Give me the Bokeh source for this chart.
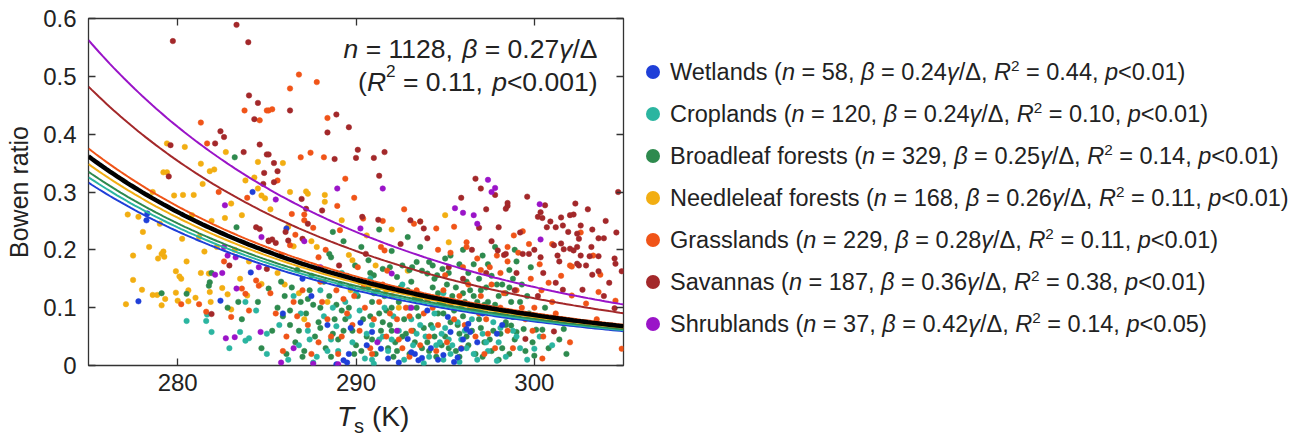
import numpy as np
from bokeh.plotting import figure
from bokeh.models import Range1d, FixedTicker, NumeralTickFormatter, LinearAxis, Label, Div, CustomJSTickFormatter
from bokeh.layouts import row, column
from bokeh.embed import file_html
from bokeh.resources import INLINE

# ---------------- data ----------------
categories = ["Wetlands", "Croplands", "Broadleaf forests", "Needleleaf forests",
              "Grasslands", "Savannas", "Shrublands"]
n_counts = [58, 120, 329, 168, 229, 187, 37]
coef_text = ["0.24", "0.24", "0.25", "0.26", "0.28", "0.36", "0.42"]
r2_text = ["0.44", "0.10", "0.14", "0.11", "0.11", "0.38", "0.14"]
p_text = ["0.01", "0.01", "0.01", "0.01", "0.01", "0.01", "0.05"]
coef_fit = [0.236, 0.243, 0.25, 0.26, 0.28, 0.36, 0.42]
overall_n = 1128
overall_coef = 0.27
overall_r2 = "0.11"
overall_p = "0.001"
colors = ["#1f3fd8", "#2bb5a0", "#2e8a4e", "#f2ae12", "#f05418", "#a3282a", "#9a14c8"]

wetlands = [(278.3, 0.263), (278.25, 0.251), (277.8, 0.111), (282.4, 0.112), (284.1, 0.161),
            (284.2, 0.300), (286.1, 0.237), (285.9, 0.090), (287.5, 0.120), (288.4, 0.070),
            (289.7, 0.065), (290.25, 0.074), (289.6, 0.020), (289.3, 0.009), (289.5, 0.005),
            (290.6, 0.035), (291.4, 0.029), (290.9, 0.058), (292.9, 0.046), (293.1, 0.023),
            (293.3, 0.020), (293.5, 0.009), (293.7, 0.013), (294.2, 0.030), (294.6, 0.010),
            (295.15, 0.084), (295.3, 0.058), (295.9, 0.029), (295.7, 0.014), (296.3, 0.072),
            (296.2, 0.063), (296.4, 0.058), (296.8, 0.040), (297.1, 0.090), (297.5, 0.100),
            (291.8, 0.012), (292.4, 0.005), (294.9, 0.018), (295.5, 0.006), (296.0, 0.045),
            (288.9, 0.002), (287.0, 0.150), (297.9, 0.055), (298.2, 0.070), (294.0, 0.095)]

croplands = [(280.5, 0.077), (281.6, 0.077), (281.65, 0.088), (281.9, 0.058), (283.5, 0.058),
             (283.8, 0.043), (284.0, 0.047), (285.0, 0.055), (285.0, 0.020), (284.4, 0.095),
             (283.8, 0.110), (282.9, 0.030), (286.2, 0.010), (286.8, 0.035), (287.3, 0.060),
             (287.8, 0.015), (288.2, 0.085), (288.6, 0.045), (289.0, 0.025), (289.4, 0.110),
             (289.8, 0.040), (290.2, 0.095), (290.5, 0.012), (290.9, 0.070), (291.2, 0.130),
             (291.5, 0.050), (291.8, 0.025), (292.1, 0.085), (292.4, 0.060), (292.7, 0.010),
             (293.0, 0.100), (293.2, 0.035), (293.6, 0.070), (293.9, 0.050), (294.1, 0.015),
             (294.4, 0.090), (294.7, 0.040), (295.0, 0.065), (295.3, 0.020), (295.6, 0.110),
             (295.9, 0.045), (296.2, 0.030), (296.5, 0.080), (296.8, 0.010), (297.1, 0.055),
             (297.4, 0.025), (297.7, 0.075), (298.0, 0.040), (298.4, 0.015), (298.8, 0.060),
             (299.2, 0.030), (300.0, 0.029), (300.3, 0.050), (301.0, 0.035), (289.2, 0.160),
             (290.8, 0.150), (292.6, 0.140), (294.9, 0.125), (286.5, 0.120), (288.0, 0.130),
             (296.9, 0.095), (287.6, 0.005), (291.0, 0.003), (293.8, 0.004), (295.8, 0.006),
             (297.9, 0.008), (299.6, 0.010), (285.7, 0.070), (288.9, 0.068), (294.5, 0.035),
             (295.2, 0.045), (294.8, 0.055), (291.3, 0.045), (290.6, 0.055),
             (286.9, 0.090), (288.4, 0.025), (289.6, 0.085), (290.9, 0.010), (292.0, 0.045),
             (293.4, 0.055), (294.3, 0.065), (294.9, 0.010), (295.4, 0.035), (295.7, 0.075),
             (296.1, 0.060), (296.6, 0.020), (297.3, 0.040), (298.1, 0.065), (299.0, 0.050),
             (293.1, 0.080), (291.6, 0.100), (290.0, 0.125), (288.7, 0.100), (287.4, 0.045)]

broadleaf = [(288.7, 0.231), (288.5, 0.193), (288.6, 0.187), (289.95, 0.173), (290.7, 0.182),
             (290.8, 0.160), (291.0, 0.156), (291.5, 0.167), (292.3, 0.153), (292.6, 0.173),
             (293.15, 0.170), (293.4, 0.179), (293.7, 0.164), (294.0, 0.159), (294.1, 0.179),
             (294.3, 0.173), (294.55, 0.156), (294.85, 0.167), (292.0, 0.198), (292.9, 0.222),
             (293.6, 0.205), (295.3, 0.190), (295.8, 0.175), (296.3, 0.160), (296.9, 0.150),
             (297.4, 0.175), (297.9, 0.140), (298.4, 0.125), (298.8, 0.150), (295.6, 0.135),
             (296.6, 0.120), (297.2, 0.105), (289.3, 0.215), (290.3, 0.205), (291.3, 0.235),
             (283.2, 0.360), (283.3, 0.239), (281.8, 0.144), (281.75, 0.138), (279.1, 0.125),
             (280.5, 0.124), (283.4, 0.110), (284.5, 0.110), (285.1, 0.133), (281.9, 0.160),
             (285.6, 0.10), (286.0, 0.12), (286.3, 0.07), (286.6, 0.04), (286.9, 0.11),
             (287.2, 0.09), (287.4, 0.13), (287.7, 0.05), (288.0, 0.10), (288.3, 0.03),
             (288.5, 0.12), (288.8, 0.08), (289.1, 0.14), (289.3, 0.06), (289.6, 0.10),
             (289.9, 0.02), (290.1, 0.12), (290.4, 0.08), (290.6, 0.05), (290.9, 0.11),
             (291.1, 0.02), (291.3, 0.09), (291.6, 0.12), (291.9, 0.07), (292.2, 0.04),
             (292.4, 0.11), (292.7, 0.08), (292.9, 0.13), (293.2, 0.06), (293.4, 0.10),
             (293.7, 0.03), (293.9, 0.12), (294.2, 0.07), (294.4, 0.05), (294.7, 0.11),
             (294.9, 0.09), (295.2, 0.03), (295.4, 0.12), (295.7, 0.07), (295.9, 0.10),
             (296.2, 0.05), (296.4, 0.13), (296.7, 0.02), (296.9, 0.08), (297.2, 0.04),
             (297.4, 0.11), (297.7, 0.06), (297.9, 0.09), (298.2, 0.03), (298.4, 0.07),
             (298.7, 0.11), (299.0, 0.058), (299.4, 0.063), (298.4, 0.075), (298.8, 0.084),
             (298.7, 0.069), (300.45, 0.062), (300.1, 0.062), (301.65, 0.063), (301.8, 0.020),
             (300.0, 0.017), (299.7, 0.090), (300.6, 0.100), (286.1, 0.02), (287.0, 0.015),
             (288.6, 0.015), (290.0, 0.035), (291.8, 0.03), (293.0, 0.02), (294.5, 0.015),
             (295.8, 0.015), (297.1, 0.015), (298.6, 0.02), (289.0, 0.045), (290.7, 0.135),
             (292.0, 0.10), (293.5, 0.085), (295.0, 0.05), (296.0, 0.085), (297.0, 0.13),
             (298.0, 0.12), (299.2, 0.11), (287.9, 0.075), (291.4, 0.06), (294.0, 0.04),
             (296.5, 0.06), (289.4, 0.08), (292.6, 0.05), (295.5, 0.095), (285.3, 0.06),
             (284.7, 0.03), (283.6, 0.08), (282.8, 0.10), (285.8, 0.145), (287.5, 0.155),
             (286.7, 0.165), (298.9, 0.045), (299.9, 0.04), (300.9, 0.08), (293.3, 0.115),
             (294.6, 0.125), (296.1, 0.11), (297.6, 0.025), (298.1, 0.055), (299.5, 0.025),
             (285.9, 0.085), (286.4, 0.135), (286.8, 0.06), (287.1, 0.025), (287.6, 0.105),
             (288.2, 0.145), (288.7, 0.055), (289.2, 0.095), (289.7, 0.135), (290.3, 0.025),
             (290.8, 0.085), (291.2, 0.14), (291.7, 0.095), (292.1, 0.015), (292.5, 0.135),
             (292.8, 0.055), (293.1, 0.145), (293.6, 0.115), (294.1, 0.025), (294.3, 0.135),
             (294.8, 0.035), (295.1, 0.14), (295.3, 0.075), (295.6, 0.025), (296.0, 0.125),
             (296.3, 0.035), (296.6, 0.095), (297.0, 0.065), (297.3, 0.135), (297.8, 0.105),
             (298.3, 0.09), (298.6, 0.135), (299.1, 0.085), (299.6, 0.12), (300.2, 0.08),
             (300.8, 0.03), (301.4, 0.045), (289.8, 0.06), (290.9, 0.045), (291.5, 0.075),
             (292.3, 0.025), (293.3, 0.04), (294.6, 0.09), (295.8, 0.055), (296.8, 0.11),
             (297.5, 0.045), (298.0, 0.01), (286.3, 0.095), (287.3, 0.115), (288.0, 0.065),
             (288.9, 0.105), (290.2, 0.145), (291.0, 0.125), (292.0, 0.06), (293.8, 0.065),
             (294.9, 0.105), (296.2, 0.145), (297.6, 0.155), (298.2, 0.14), (299.3, 0.14),
             (295.2, 0.16), (294.4, 0.15), (293.0, 0.165), (289.5, 0.155), (291.9, 0.17),
             (296.6, 0.175), (297.1, 0.19), (298.6, 0.165), (299.0, 0.18), (299.8, 0.17),
             (296.0, 0.20), (297.8, 0.205), (298.9, 0.2), (295.0, 0.185)]

needleleaf = [(277.2, 0.261), (278.05, 0.231), (277.8, 0.257), (279.8, 0.294), (280.3, 0.295),
              (280.9, 0.295), (279.2, 0.197), (279.25, 0.188), (279.1, 0.193), (278.9, 0.185),
              (279.9, 0.163), (280.1, 0.154), (280.2, 0.150), (277.5, 0.148), (278.0, 0.131),
              (278.6, 0.122), (278.85, 0.122), (279.3, 0.115), (277.1, 0.106), (279.1, 0.104),
              (279.9, 0.126), (280.6, 0.130), (281.0, 0.117), (280.0, 0.112), (280.6, 0.111),
              (281.3, 0.160), (281.75, 0.159), (281.8, 0.127), (282.5, 0.134), (281.85, 0.110),
              (282.8, 0.123), (283.9, 0.121), (283.0, 0.097), (284.7, 0.141), (282.65, 0.255),
              (283.6, 0.260), (284.7, 0.294), (284.9, 0.289), (284.5, 0.306), (281.5, 0.197),
              (280.25, 0.219), (281.2, 0.222), (282.2, 0.205), (279.4, 0.384), (280.4, 0.378),
              (282.7, 0.369), (281.3, 0.349), (284.5, 0.352), (279.2, 0.334), (279.4, 0.334),
              (281.8, 0.336), (282.05, 0.339), (284.3, 0.325), (281.4, 0.314), (287.2, 0.301),
              (287.3, 0.297), (288.25, 0.295), (288.25, 0.283), (289.2, 0.251), (292.0, 0.235),
              (293.6, 0.249), (295.0, 0.260), (286.5, 0.206), (287.5, 0.215), (287.8, 0.205),
              (289.6, 0.191), (289.8, 0.182), (291.1, 0.173), (292.9, 0.164), (295.2, 0.213),
              (286.0, 0.14), (286.8, 0.125), (285.6, 0.16), (287.1, 0.08), (288.4, 0.11),
              (289.7, 0.13), (291.7, 0.13), (284.0, 0.18), (283.2, 0.20), (280.8, 0.26),
              (279.0, 0.245), (278.4, 0.205), (283.5, 0.15), (285.2, 0.27), (286.3, 0.30),
              (280.5, 0.18), (281.9, 0.25), (278.6, 0.30), (283.0, 0.28), (290.6, 0.225),
              (292.4, 0.10), (277.5, 0.19), (283.8, 0.32), (285.9, 0.35), (286.2, 0.24)]

grasslands = [(283.75, 0.441), (285.0, 0.441), (284.6, 0.424), (281.3, 0.420), (281.65, 0.384),
              (286.8, 0.503), (287.8, 0.490), (286.3, 0.479), (285.1, 0.441), (285.3, 0.443),
              (287.45, 0.368), (288.2, 0.360), (288.4, 0.428), (289.4, 0.323), (288.95, 0.276),
              (286.4, 0.262), (287.1, 0.261), (287.1, 0.251), (290.4, 0.254), (287.6, 0.238),
              (286.6, 0.226), (289.1, 0.234), (293.25, 0.245), (294.5, 0.237), (286.3, 0.208),
              (287.9, 0.187), (291.4, 0.205), (291.6, 0.199), (291.75, 0.164), (295.0, 0.156),
              (296.2, 0.213), (296.2, 0.205), (298.5, 0.205), (298.85, 0.225), (299.35, 0.232),
              (302.0, 0.173), (302.1, 0.171), (303.7, 0.157), (303.6, 0.127), (301.5, 0.155),
              (300.8, 0.143), (302.1, 0.121), (302.9, 0.107), (304.55, 0.112), (304.9, 0.029),
              (300.45, 0.012), (280.2, 0.106), (281.2, 0.106), (283.6, 0.133), (283.8, 0.124),
              (284.0, 0.095), (281.6, 0.093), (283.0, 0.084), (284.4, 0.147), (284.55, 0.138),
              (285.5, 0.09), (286.1, 0.05), (286.5, 0.11), (287.0, 0.13), (287.3, 0.07),
              (287.9, 0.04), (288.1, 0.11), (288.4, 0.08), (288.9, 0.13), (289.2, 0.05),
              (289.5, 0.09), (289.9, 0.12), (290.2, 0.06), (290.5, 0.10), (290.8, 0.03),
              (291.0, 0.08), (291.3, 0.11), (291.7, 0.05), (292.0, 0.12), (292.3, 0.08),
              (292.6, 0.03), (292.8, 0.10), (293.1, 0.06), (293.4, 0.13), (293.8, 0.09),
              (294.1, 0.05), (294.3, 0.10), (294.6, 0.07), (294.9, 0.13), (295.1, 0.04),
              (295.5, 0.08), (295.8, 0.12), (296.1, 0.07), (296.4, 0.10), (296.7, 0.05),
              (297.0, 0.12), (297.3, 0.08), (297.6, 0.14), (297.8, 0.03), (298.1, 0.10),
              (298.5, 0.06), (299.0, 0.13), (299.5, 0.08), (300.0, 0.10), (300.5, 0.05),
              (301.2, 0.09), (297.5, 0.17), (298.1, 0.16), (296.8, 0.185), (299.8, 0.15),
              (294.6, 0.20), (290.1, 0.17), (288.3, 0.20), (285.8, 0.19), (282.6, 0.18),
              (283.9, 0.29), (282.3, 0.30), (285.6, 0.32), (286.9, 0.36), (289.9, 0.29),
              (292.7, 0.27), (291.5, 0.25), (295.5, 0.24), (302.6, 0.23), (303.3, 0.19),
              (301.0, 0.21), (304.3, 0.065), (303.5, 0.08), (302.0, 0.04), (297.2, 0.02),
              (293.0, 0.015), (289.0, 0.02),
              (285.2, 0.125), (285.9, 0.025), (286.7, 0.085), (287.5, 0.020), (288.0, 0.145),
              (288.6, 0.050), (289.3, 0.115), (289.8, 0.070), (290.4, 0.135), (290.9, 0.020),
              (291.5, 0.140), (291.9, 0.090), (292.4, 0.045), (293.0, 0.085), (293.6, 0.035),
              (294.0, 0.115), (294.5, 0.025), (295.3, 0.105), (295.9, 0.030), (296.3, 0.140),
              (296.9, 0.090), (297.4, 0.055), (298.3, 0.125), (298.8, 0.030), (299.3, 0.100),
              (299.9, 0.060), (300.4, 0.130), (301.0, 0.110), (301.6, 0.075), (296.0, 0.170),
              (297.0, 0.165), (298.5, 0.180), (299.1, 0.195), (299.7, 0.210), (300.3, 0.175),
              (295.3, 0.195), (297.9, 0.190)]

savannas = [(279.73, 0.561), (283.3, 0.589), (283.96, 0.559), (284.0, 0.467), (284.5, 0.454),
            (284.3, 0.426), (282.4, 0.405), (282.6, 0.395), (282.1, 0.384), (279.6, 0.381),
            (284.6, 0.382), (283.7, 0.369), (285.0, 0.365), (284.85, 0.333), (279.5, 0.327),
            (284.8, 0.314), (286.3, 0.441), (288.9, 0.434), (289.6, 0.412), (288.4, 0.403),
            (285.1, 0.365), (288.8, 0.357), (290.1, 0.373), (290.0, 0.359), (291.0, 0.359),
            (291.6, 0.369), (285.4, 0.350), (285.6, 0.336), (285.4, 0.317), (291.3, 0.328),
            (296.7, 0.323), (297.0, 0.306), (286.95, 0.288), (287.2, 0.271), (288.1, 0.268),
            (290.35, 0.257), (291.25, 0.252), (287.3, 0.245), (286.05, 0.231), (293.05, 0.251),
            (293.6, 0.249), (293.8, 0.237), (285.3, 0.218), (285.1, 0.215), (285.5, 0.212),
            (286.2, 0.216), (287.0, 0.219), (289.05, 0.173), (290.55, 0.193), (282.9, 0.173),
            (284.4, 0.239), (284.6, 0.236), (285.1, 0.216), (285.0, 0.167), (281.9, 0.089),
            (297.8, 0.295), (299.6, 0.292), (297.3, 0.270), (298.4, 0.271), (298.5, 0.276),
            (298.5, 0.281), (300.6, 0.277), (300.35, 0.265), (300.2, 0.257), (300.45, 0.255),
            (300.9, 0.249), (301.5, 0.256), (302.0, 0.260), (302.2, 0.261), (296.9, 0.238),
            (298.0, 0.239), (300.7, 0.239), (301.2, 0.239), (301.6, 0.242), (301.9, 0.231),
            (302.4, 0.228), (302.6, 0.242), (302.5, 0.219), (303.25, 0.235), (303.6, 0.220),
            (303.9, 0.220), (297.95, 0.199), (298.3, 0.191), (298.4, 0.193), (299.35, 0.193),
            (299.7, 0.193), (300.0, 0.200), (300.35, 0.187), (301.1, 0.208), (301.5, 0.211),
            (301.65, 0.201), (301.3, 0.190), (301.4, 0.180), (302.0, 0.202), (302.2, 0.199),
            (302.4, 0.205), (302.6, 0.190), (302.9, 0.173), (302.5, 0.173), (302.4, 0.176),
            (303.2, 0.205), (303.6, 0.189), (303.1, 0.189), (304.5, 0.185), (304.9, 0.163),
            (304.55, 0.176), (303.6, 0.163), (303.25, 0.157), (304.2, 0.143), (302.7, 0.131),
            (301.2, 0.143), (301.6, 0.131), (304.5, 0.099), (301.1, 0.059), (299.5, 0.046),
            (296.0, 0.15), (297.3, 0.16), (295.2, 0.17), (294.0, 0.22), (292.5, 0.21),
            (296.5, 0.20), (299.0, 0.16), (300.2, 0.12), (298.9, 0.13), (302.3, 0.28),
            (303.0, 0.27), (304.0, 0.25), (304.6, 0.23), (299.2, 0.23), (295.9, 0.29),
            (304.7, 0.30), (297.6, 0.215), (300.5, 0.16), (303.9, 0.12)]

shrublands = [(288.95, 0.306), (291.5, 0.306), (297.4, 0.321), (297.8, 0.307), (282.65, 0.277),
              (285.5, 0.287), (282.1, 0.157), (282.5, 0.160), (283.3, 0.133), (284.55, 0.170),
              (284.7, 0.222), (282.6, 0.205), (282.8, 0.190), (283.25, 0.187), (282.7, 0.047),
              (283.2, 0.049), (284.65, 0.058), (287.1, 0.215), (290.25, 0.237), (292.0, 0.159),
              (295.55, 0.272), (296.0, 0.264), (296.6, 0.260), (300.35, 0.218), (300.3, 0.279),
              (297.6, 0.300), (288.0, 0.17), (286.5, 0.03), (291.2, 0.04), (293.1, 0.10),
              (285.8, 0.005), (287.6, 0.003), (289.0, 0.002), (296.8, 0.245), (292.3, 0.06)]

point_sets = [wetlands, croplands, broadleaf, needleleaf, grasslands, savannas, shrublands]
draw_order = [3, 2, 1, 4, 0, 5, 6]
x_ticks = [280, 290, 300]
y_ticks = [0, 0.1, 0.2, 0.3, 0.4, 0.5, 0.6]

FONT = "Liberation Sans"
TXT = "#222222"

# --- model curve  beta = k * gamma / Delta (Delta: slope of saturation vapour pressure) ---
def gamma_over_delta(T_K):
    t = T_K - 273.15
    es = 0.6108 * np.exp(17.27 * t / (t + 237.3))
    delta = 4098.0 * es / (t + 237.3) ** 2
    return 0.067 / delta

FIG_W, FIG_H = 635, 405
p = figure(width=FIG_W, height=FIG_H, x_range=Range1d(275, 305), y_range=Range1d(0, 0.6),
           output_backend="svg", toolbar_location=None,
           min_border_left=88, min_border_right=12, min_border_top=18, min_border_bottom=40)
p.background_fill_color = "white"
p.border_fill_color = "white"
p.outline_line_color = "#333333"
p.outline_line_width = 1.3
p.xgrid.visible = False
p.ygrid.visible = False

for i in draw_order:
    pts, c = point_sets[i], colors[i]
    xs = [a for a, b in pts]
    ys = [b for a, b in pts]
    p.scatter(xs, ys, size=5.5, fill_color=c, line_color=c, line_width=0.5)

Tg = np.linspace(275, 305, 151)
g = gamma_over_delta(Tg)
for k, c in zip(coef_fit, colors):
    p.line(Tg, k * g, line_color=c, line_width=2)
p.line(Tg, overall_coef * g, line_color="black", line_width=4.5)

def style_axis(ax, labels=True, standoff=10):
    ax.axis_line_color = None
    ax.major_tick_in = 7
    ax.major_tick_out = 0
    ax.minor_tick_line_color = None
    ax.major_tick_line_color = "#333333"
    ax.major_tick_line_width = 1.3
    ax.major_label_text_font = FONT
    ax.major_label_text_color = TXT
    if labels:
        ax.major_label_text_font_size = "24px"
        ax.major_label_standoff = standoff
    else:
        ax.major_label_text_font_size = "1px"
        ax.major_label_standoff = 0
        ax.formatter = CustomJSTickFormatter(code="return ''")

p.xaxis.ticker = FixedTicker(ticks=x_ticks)
p.yaxis.ticker = FixedTicker(ticks=y_ticks)
p.yaxis.formatter = NumeralTickFormatter(format="0.[0]")
style_axis(p.xaxis[0], standoff=8)
style_axis(p.yaxis[0], standoff=12)
p.yaxis.axis_label = "Bowen ratio"
p.yaxis.axis_label_text_font = FONT
p.yaxis.axis_label_text_font_size = "25px"
p.yaxis.axis_label_text_font_style = "normal"
p.yaxis.axis_label_text_color = TXT
p.yaxis.axis_label_standoff = 7

top_ax = LinearAxis(ticker=FixedTicker(ticks=x_ticks))
right_ax = LinearAxis(ticker=FixedTicker(ticks=y_ticks))
style_axis(top_ax, labels=False)
style_axis(right_ax, labels=False)
p.add_layout(top_ax, "above")
p.add_layout(right_ax, "right")

# ---- rich-text helper (Arial / Liberation Sans advance widths, per 1000 em) ----
W = {" ": 278, "(": 333, ")": 333, ",": 278, ".": 278, "/": 278, "<": 584, "=": 584,
     "R": 722, "T": 611, "K": 667, "n": 556, "p": 556, "s": 500,
     "\u03b2": 575, "\u03b3": 500, "\u0394": 668}
def tw(s, size):
    return sum(W.get(ch, 556) for ch in s) * size / 1000.0

def seg_size(kind, size):
    return size * 0.65 if kind == "sup" else size

def seg_width(segs, size):
    return sum(tw(t, seg_size(k, size)) for t, k in segs)

def rich_line(segments, x_data, y_data, x_off_start, y_off, size):
    xo = x_off_start
    for txt, kind in segments:
        fs = seg_size(kind, size)
        dy = size * 0.38 if kind == "sup" else 0
        lead = len(txt) - len(txt.lstrip(" "))
        lab = Label(x=x_data, y=y_data, x_offset=xo + tw(" " * lead, fs), y_offset=y_off + dy,
                    text=txt.strip(" "), text_font=FONT, text_font_size=f"{fs:.1f}px",
                    text_color=TXT, text_font_style="italic" if kind == "i" else "normal",
                    text_baseline="alphabetic", text_align="left")
        p.add_layout(lab)
        xo += tw(txt, fs)

ann_size = 26.5
line1 = [("n", "i"), (f" = {overall_n}, ", "n"), ("\u03b2", "i"), (f" = {overall_coef:.2f}", "n"),
         ("\u03b3", "i"), ("/\u0394", "n")]
line2 = [("(", "n"), ("R", "i"), ("2", "sup"), (f" = {overall_r2}, ", "n"), ("p", "i"),
         (f"<{overall_p})", "n")]
right_edge = -26
rich_line(line1, 305, 0.6, right_edge - seg_width(line1, ann_size), -30, ann_size)
rich_line(line2, 305, 0.6, right_edge - seg_width(line2, ann_size), -63, ann_size)

# ---------------- x axis label (HTML, below the figure) ----------------
xlabel = Div(text=(f'<div style="font-family:\'{FONT}\';font-size:28px;line-height:24px;'
                   f'color:{TXT};padding-left:337px;white-space:nowrap;">'
                   f'<i>T</i><sub style="font-size:72%;line-height:0;">s</sub> (K)</div>'),
             width=FIG_W, height=37, margin=0)

# ---------------- legend as HTML ----------------
rows_html = []
for name, n, k, r2, pv, c in zip(categories, n_counts, coef_text, r2_text, p_text, colors):
    rows_html.append(
        f'<div style="height:42px;line-height:42px;white-space:nowrap;">'
        f'<span style="display:inline-block;width:14px;height:14px;border-radius:50%;'
        f'background:{c};vertical-align:middle;margin:0 10px 3px 11px;"></span>'
        f'{name} (<i>n</i> = {n}, <i>\u03b2</i> = {k}<i>\u03b3</i>/\u0394, '
        f'<i>R</i><sup style="font-size:65%;line-height:0;">2</sup> = {r2}, <i>p</i>&lt;{pv})</div>')
legend_html = (f'<div style="font-family:\'{FONT}\';font-size:23.5px;color:{TXT};padding-top:51px;">'
               + "".join(rows_html) + "</div>")
legend = Div(text=legend_html, width=1298 - FIG_W, height=FIG_H, margin=0)

layout = row(column(p, xlabel, spacing=0), legend, spacing=0)
open("out.html", "w").write(file_html(layout, INLINE))
